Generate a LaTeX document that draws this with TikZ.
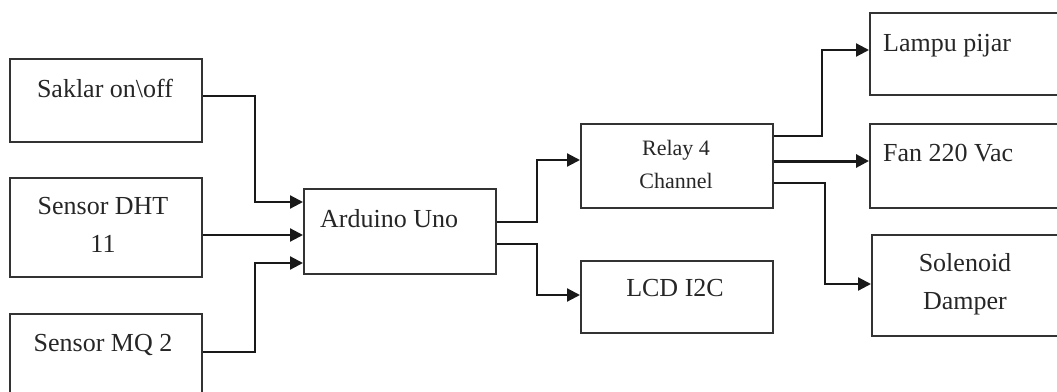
\documentclass[tikz,border=0pt]{standalone}
\usepackage{fontspec}
\setmainfont{Liberation Serif}
\usetikzlibrary{arrows.meta}
\begin{document}
\begin{tikzpicture}[x=1pt,y=-1pt,
  box/.style={draw=black!80,line width=2.2pt,rectangle,inner sep=0pt,anchor=north west},
  txt/.style={inner sep=0pt,anchor=base,text=black!85,font=\fontsize{26}{30}\selectfont},
  stxt/.style={inner sep=0pt,anchor=base,text=black!85,font=\fontsize{22}{26}\selectfont},
  arr/.style={line width=2.2pt,draw=black!90,-{Triangle[length=13pt,width=13pt]}}]
\useasboundingbox (0,0) rectangle (1057,391);
% boxes
\node[box,minimum width=192pt,minimum height=83pt] (saklar) at (9,58) {};
\node[box,minimum width=192pt,minimum height=99pt] (dht) at (9,177) {};
\node[box,minimum width=192pt,minimum height=95pt] (mq) at (9,313) {};
\node[box,minimum width=192pt,minimum height=85pt] (ard) at (303,188) {};
\node[box,minimum width=192pt,minimum height=84pt] (relay) at (580,123) {};
\node[box,minimum width=192pt,minimum height=72pt] (lcd) at (580,260) {};
\node[box,minimum width=210pt,minimum height=82pt] (lampu) at (869,12) {};
\node[box,minimum width=210pt,minimum height=84pt] (fan) at (869,123) {};
\node[box,minimum width=210pt,minimum height=101pt] (sol) at (871,234) {};
% texts
\node[txt] (saklar-t) at (105,97) {Saklar on\textbackslash off};
\node[txt] (dht-t1) at (103,214) {Sensor DHT};
\node[txt] (dht-t2) at (103,252) {11};
\node[txt] (mq-t) at (103,351) {Sensor MQ 2};
\node[txt,anchor=base west] (ard-t) at (320,227) {Arduino Uno};
\node[stxt] (relay-t1) at (676,155) {Relay 4};
\node[stxt] (relay-t2) at (676,188) {Channel};
\node[txt] (lcd-t) at (675,296) {LCD I2C};
\node[txt,anchor=base west] (lampu-t) at (883,51) {Lampu pijar};
\node[txt,anchor=base west] (fan-t) at (883,161) {Fan 220 Vac};
\node[txt] (sol-t1) at (965,271) {Solenoid};
\node[txt] (sol-t2) at (965,309) {Damper};
% ports
\coordinate (s1) at ([yshift=-38pt]saklar.north east);
\coordinate (a1) at ([yshift=-14pt]ard.north west);
\coordinate (a2) at ([yshift=-47pt]ard.north west);
\coordinate (a3) at ([yshift=-75pt]ard.north west);
\coordinate (m1) at ([yshift=-39pt]mq.north east);
\coordinate (jx1) at (255,0);
\coordinate (o1) at ([yshift=-34pt]ard.north east);
\coordinate (o2) at ([yshift=-56pt]ard.north east);
\coordinate (jx2) at (537,0);
\coordinate (ri) at ([yshift=-37pt]relay.north west);
\coordinate (li) at ([yshift=-35pt]lcd.north west);
\coordinate (r1) at ([yshift=-13pt]relay.north east);
\coordinate (r2) at ([yshift=-38pt]relay.north east);
\coordinate (r3) at ([yshift=-60pt]relay.north east);
\coordinate (lpi) at ([yshift=-38pt]lampu.north west);
\coordinate (si) at ([yshift=-50pt]sol.north west);
\coordinate (jx3) at (822,0);
\coordinate (jx4) at (825,0);
% connectors
\draw[arr] (s1) -- (s1 -| jx1) -- (jx1 |- a1) -- (a1);
\draw[arr] (a2 -| dht.east) -- (a2);
\draw[arr] (m1) -- (m1 -| jx1) -- (jx1 |- a3) -- (a3);
\draw[arr] (o1) -- (o1 -| jx2) -- (jx2 |- ri) -- (ri);
\draw[arr] (o2) -- (o2 -| jx2) -- (jx2 |- li) -- (li);
\draw[arr] (r1) -- (r1 -| jx3) -- (jx3 |- lpi) -- (lpi);
\draw[arr,line width=3pt] (r2) -- (r2 -| fan.west);
\draw[arr] (r3) -- (r3 -| jx4) -- (jx4 |- si) -- (si);
\end{tikzpicture}
\end{document}
